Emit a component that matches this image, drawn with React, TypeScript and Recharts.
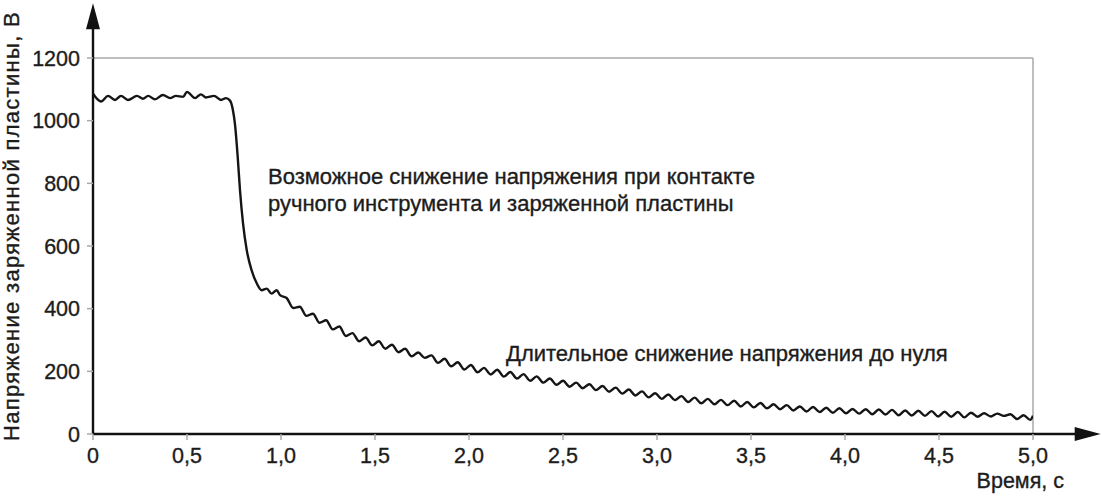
import React from 'react';
import { LineChart, Line, XAxis, YAxis, ReferenceLine } from 'recharts';

// Time, s
const timeS: number[] = [
  0, 0.043, 0.08, 0.117, 0.149, 0.186, 0.234, 0.266, 0.293, 0.33, 0.372, 0.41, 0.441, 0.479, 0.5,
  0.543, 0.574, 0.601, 0.644, 0.681, 0.707, 0.729, 0.745, 0.755, 0.77, 0.782, 0.798, 0.818, 0.844,
  0.871, 0.897, 0.924, 0.95, 0.977, 0.995,
  1.03, 1.065, 1.1, 1.135, 1.17, 1.205, 1.24, 1.275, 1.31, 1.345, 1.38, 1.415, 1.45, 1.485, 1.52,
  1.555, 1.59, 1.625, 1.66, 1.695, 1.73, 1.765, 1.8, 1.835, 1.87, 1.905, 1.94, 1.975, 2.01, 2.045,
  2.08, 2.115, 2.15, 2.185, 2.22, 2.255, 2.29, 2.325, 2.36, 2.395, 2.43, 2.465, 2.5, 2.535, 2.57,
  2.605, 2.64, 2.675, 2.71, 2.745, 2.78, 2.815, 2.85, 2.885, 2.92, 2.955, 2.99, 3.025, 3.06, 3.095,
  3.13, 3.165, 3.2, 3.235, 3.27, 3.305, 3.34, 3.375, 3.41, 3.445, 3.48, 3.515, 3.55, 3.585, 3.62,
  3.655, 3.69, 3.725, 3.76, 3.795, 3.83, 3.865, 3.9, 3.935, 3.97, 4.005, 4.04, 4.075, 4.11, 4.145,
  4.18, 4.215, 4.25, 4.285, 4.32, 4.355, 4.39, 4.425, 4.46, 4.495, 4.53, 4.565, 4.6, 4.635, 4.67,
  4.705, 4.74, 4.775, 4.81, 4.845, 4.88, 4.915, 4.95, 4.985, 5.0,
];

// Plate voltage, V
const voltageV: number[] = [
  1086, 1061, 1079, 1066, 1079, 1066, 1079, 1070, 1079, 1068, 1082, 1072, 1079, 1076, 1092,
  1072, 1084, 1074, 1079, 1066, 1072, 1064, 1031, 990, 882, 777, 672, 586, 522,
  481, 459, 464, 448, 459, 443,
  434, 402, 406, 377, 384, 355, 363, 334, 343, 313, 322, 296, 308, 283, 296,
  272, 285, 261, 272, 248, 260, 243, 251, 227, 240, 216, 229, 206, 220, 197,
  211, 190, 205, 183, 198, 177, 191, 170, 184, 164, 177, 157, 170, 151, 164,
  146, 159, 140, 153, 135, 148, 129, 142, 123, 136, 117, 130, 112, 126, 108,
  121, 102, 116, 98, 112, 95, 109, 92, 106, 88, 102, 85, 99, 82, 95,
  79, 92, 75, 88, 72, 86, 70, 84, 68, 82, 66, 80, 65, 79, 63,
  78, 62, 77, 60, 75, 59, 74, 58, 73, 56, 71, 55, 70, 53, 68,
  55, 66, 56, 65, 58, 63, 48, 60, 45, 58,
];

const xTicks: number[] = [0, 0.5, 1, 1.5, 2, 2.5, 3, 3.5, 4, 4.5, 5];
const xTickLabels: string[] = ['0', '0,5', '1,0', '1,5', '2,0', '2,5', '3,0', '3,5', '4,0', '4,5', '5,0'];
const yTicks: number[] = [0, 200, 400, 600, 800, 1000, 1200];

const yAxisTitle = 'Напряжение заряженной пластины, В';
const xAxisTitle = 'Время, с';
const note1Line1 = 'Возможное снижение напряжения при контакте';
const note1Line2 = 'ручного инструмента и заряженной пластины';
const note2 = 'Длительное снижение напряжения до нуля';

// axis extents (data units) for the arrowed axes
const xAxisEnd = 5.36;
const yAxisEnd = 1375;

const data = timeS.map((t, i) => ({ t, v: voltageV[i] }));

const FONT = '"Liberation Sans", Arial, sans-serif';
const TEXT = '#1c1c1c';
const GRID = '#a8a8a8';

const ArrowLine = (props: any) => {
  const { x1, y1, x2, y2 } = props;
  if ([x1, y1, x2, y2].some((n) => typeof n !== 'number' || isNaN(n))) return null;
  const dx = x2 - x1;
  const dy = y2 - y1;
  const len = Math.sqrt(dx * dx + dy * dy) || 1;
  const ux = dx / len;
  const uy = dy / len;
  const L = 26;
  const W = 7;
  const bx = x2 - ux * L;
  const by = y2 - uy * L;
  const px = -uy;
  const py = ux;
  const pts = `${x2},${y2} ${bx + px * W},${by + py * W} ${bx - px * W},${by - py * W}`;
  return (
    <g>
      <line x1={x1} y1={y1} x2={x2 - ux * 10} y2={y2 - uy * 10} stroke="#111" strokeWidth={2.4} />
      <polygon points={pts} fill="#111" />
    </g>
  );
};

const tickStyle = { fill: TEXT, fontSize: 21.5, fontFamily: FONT, stroke: TEXT, strokeWidth: 0.35 };

export default function App() {
  return (
    <div style={{ position: 'absolute', left: 0, top: 0, width: 1102, height: 496, background: '#fff' }}>
      <LineChart
        width={1102}
        height={496}
        data={data}
        margin={{ top: 58, right: 69, bottom: 32, left: 33 }}
      >
        <XAxis
          dataKey="t"
          type="number"
          domain={[0, 5]}
          ticks={xTicks}
          tickFormatter={(v: number) => xTickLabels[xTicks.indexOf(v)] ?? String(v)}
          axisLine={false}
          tickLine={{ stroke: GRID, strokeWidth: 1.5 }}
          tickSize={6}
          tickMargin={8}
          height={30}
          interval={0}
          tick={tickStyle}
          allowDataOverflow
        />
        <YAxis
          type="number"
          domain={[0, 1200]}
          ticks={yTicks}
          axisLine={false}
          tickLine={{ stroke: GRID, strokeWidth: 1.5 }}
          tickSize={6}
          tickMargin={7}
          width={60}
          interval={0}
          tick={tickStyle}
          allowDataOverflow
        />
        <ReferenceLine y={1200} stroke={GRID} strokeWidth={1.5} />
        <ReferenceLine x={5} stroke={GRID} strokeWidth={1.5} />
        <Line
          type="monotoneX"
          dataKey="v"
          stroke="#151515"
          strokeWidth={2.4}
          dot={false}
          activeDot={false}
          isAnimationActive={false}
        />
        <ReferenceLine
          segment={[{ x: 0, y: 0 }, { x: 0, y: yAxisEnd }]}
          ifOverflow="visible"
          shape={ArrowLine}
        />
        <ReferenceLine
          segment={[{ x: 0, y: 0 }, { x: xAxisEnd, y: 0 }]}
          ifOverflow="visible"
          shape={ArrowLine}
        />
      </LineChart>
      <svg
        width={1102}
        height={496}
        style={{ position: 'absolute', left: 0, top: 0, pointerEvents: 'none' }}
      >
        <g fontFamily={FONT} fill={TEXT} stroke={TEXT} strokeWidth={0.35}>
          <text
            transform="translate(19,226) rotate(-90)"
            textAnchor="middle"
            fontSize={22}
            letterSpacing={1.3}
          >
            {yAxisTitle}
          </text>
          <text x={268} y={184} fontSize={22}>{note1Line1}</text>
          <text x={268} y={211} fontSize={22}>{note1Line2}</text>
          <text x={506} y={361} fontSize={22}>{note2}</text>
          <text x={1064} y={488} textAnchor="end" fontSize={21.5}>{xAxisTitle}</text>
        </g>
      </svg>
    </div>
  );
}
